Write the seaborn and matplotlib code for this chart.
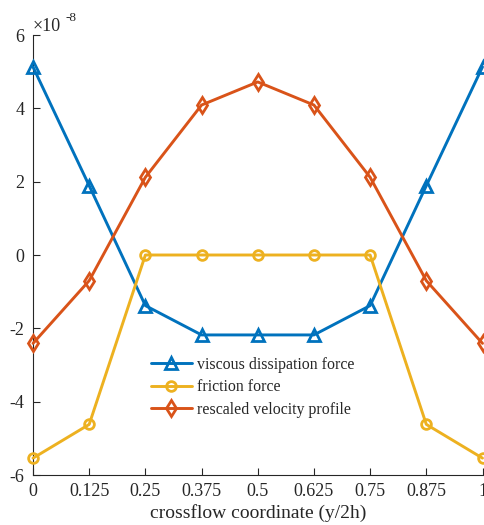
import matplotlib
matplotlib.use("Agg")
import matplotlib.pyplot as plt
import seaborn as sns
import pandas as pd

# crossflow coordinate samples (y/2h)
x = [0, 0.125, 0.25, 0.375, 0.5, 0.625, 0.75, 0.875, 1]
xtick_labels = ["0", "0.125", "0.25", "0.375", "0.5", "0.625", "0.75", "0.875", "1"]

# series values, in units of 1e-8
viscous = [5.13, 1.89, -1.38, -2.18, -2.18, -2.18, -1.38, 1.89, 5.13]
friction = [-5.54, -4.62, 0.0, 0.0, 0.0, 0.0, 0.0, -4.62, -5.54]
velocity = [-2.41, -0.70, 2.12, 4.09, 4.72, 4.09, 2.12, -0.70, -2.41]

labels = ["viscous dissipation force", "friction force", "rescaled velocity profile"]
colors = ["#0072BD", "#EDB120", "#D95319"]
markers = ["^", "o", "d"]

sns.set_style("ticks")
plt.rcParams["font.family"] = ["Liberation Serif", "DejaVu Serif"]
plt.rcParams["axes.edgecolor"] = "#262626"
plt.rcParams["xtick.color"] = "#262626"
plt.rcParams["ytick.color"] = "#262626"

fig = plt.figure(figsize=(4.84, 5.25), dpi=100)
ax = fig.add_axes([33 / 484, 50 / 525, 449.5 / 484, 440 / 525])

for vals, lab, col, mk in zip([viscous, friction, velocity], labels, colors, markers):
    df = pd.DataFrame({"x": x, "y": vals})
    sns.lineplot(data=df, x="x", y="y", ax=ax, sort=False, color=col, lw=2.1,
                 marker=mk, markersize=8 if mk != "o" else 7,
                 markerfacecolor="none", markeredgecolor=col, markeredgewidth=2.0,
                 label=lab, clip_on=False, zorder=3)

for line, col in zip(ax.get_lines(), colors):
    line.set_markerfacecolor("none")
    line.set_markeredgecolor(col)

ax.set_xlim(0, 1)
ax.set_ylim(-6, 6)
ax.set_xticks(x)
ax.set_xticklabels(xtick_labels)
ax.set_yticks([-6, -4, -2, 0, 2, 4, 6])
ax.set_yticklabels(["-6", "-4", "-2", "0", "2", "4", "6"])
ax.tick_params(direction="in", length=5, width=0.8, labelsize=13, pad=6,
               labelcolor="#262626")
for s in ["top", "right"]:
    ax.spines[s].set_visible(False)
for s in ["left", "bottom"]:
    ax.spines[s].set_linewidth(0.8)

ax.set_xlabel("crossflow coordinate (y/2h)", fontsize=14, color="#262626", labelpad=3)
ax.set_ylabel("")

# exponent marker for the y axis
fig.text(33 / 484, 1 - 31 / 525, "\u00d710", fontsize=13, color="#262626",
         ha="left", va="baseline")
fig.text(65 / 484, 1 - 21 / 525, "-8", fontsize=9.5, color="#262626",
         ha="left", va="baseline")

ax.legend(loc="upper left", bbox_to_anchor=((150.7 - 33) / 449.5, (475 - 357) / 440),
          frameon=False, fontsize=11.4, borderpad=0, borderaxespad=0,
          handlelength=2.6, handletextpad=0.35, labelspacing=0.4)

fig.savefig("out.png", dpi=100)
